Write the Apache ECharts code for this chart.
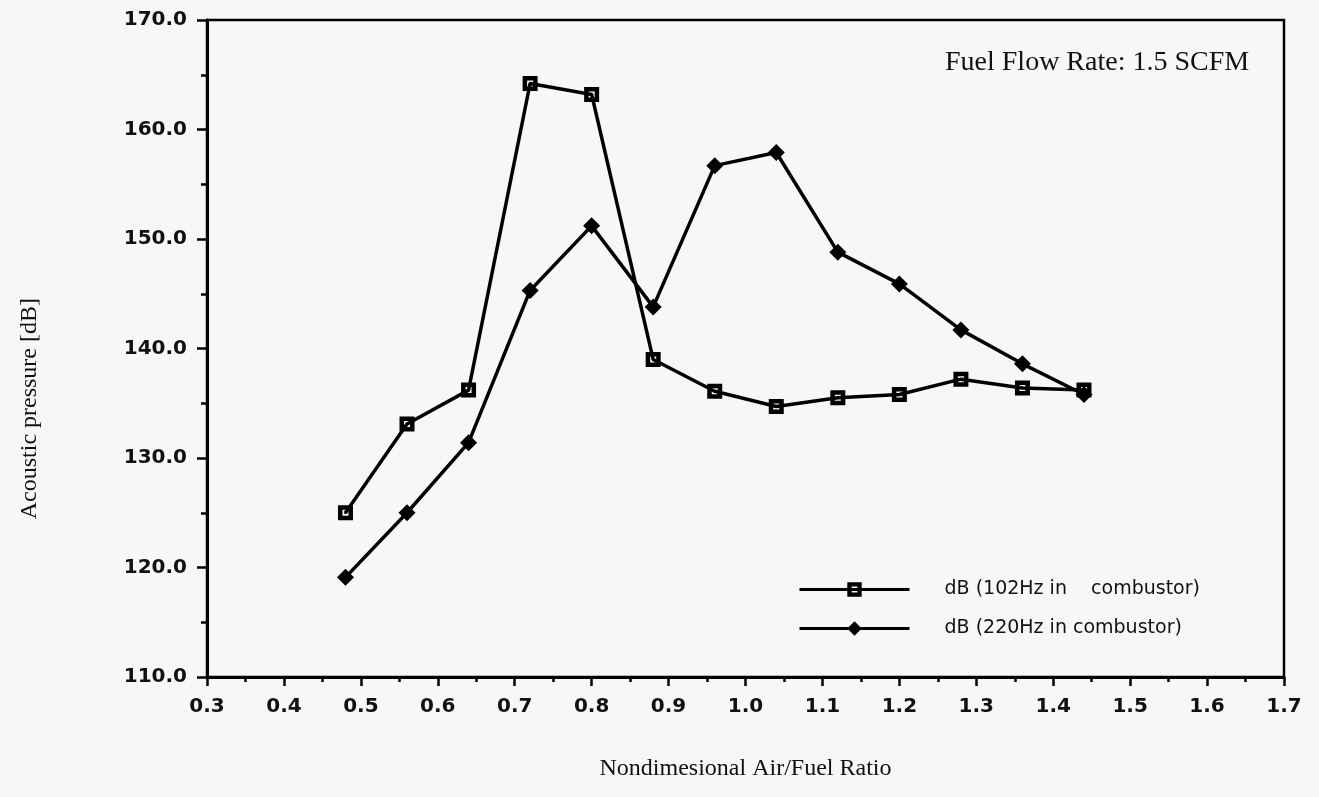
<!DOCTYPE html>
<html>
<head>
<meta charset="utf-8">
<title>Acoustic pressure</title>
<script src="https://cdn.jsdelivr.net/npm/echarts@6/dist/echarts.min.js"></script>
<style>
  html, body { margin: 0; padding: 0; background: #f7f7f7; }
  #chart { width: 1319px; height: 797px; }
</style>
</head>
<body>
<div id="chart"></div>
<script>
// values
var airFuel = [0.48, 0.56, 0.64, 0.72, 0.80, 0.88, 0.96, 1.04, 1.12, 1.20, 1.28, 1.36, 1.44];
var db102 = [125.0, 133.1, 136.2, 164.2, 163.2, 139.0, 136.1, 134.7, 135.5, 135.8, 137.2, 136.4, 136.2];
var db220 = [119.1, 125.0, 131.4, 145.3, 151.2, 143.8, 156.7, 157.9, 148.8, 145.9, 141.7, 138.6, 135.8];
var seriesNames = ['dB (102Hz in    combustor)', 'dB (220Hz in combustor)'];

function pairs(xs, ys) {
  var out = [];
  xs.forEach(function (x, i) { out.push([x, ys[i]]); });
  return out;
}

// open square with a dot in the middle
var squareSymbol = 'path://M0,0L10,0L10,10L0,10Z M3,3L3,7L7,7L7,3Z M4.2,4.2L5.8,4.2L5.8,5.8L4.2,5.8Z';

var tickFont = 'DejaVu Sans';
var chart = echarts.init(document.getElementById('chart'));
var option = {
  backgroundColor: '#f7f7f7',
  animation: false,
  title: {
    text: 'Fuel Flow Rate: 1.5 SCFM',
    left: 945,
    top: 49,
    padding: 0,
    textStyle: { fontFamily: 'Liberation Serif', fontWeight: 'normal', fontSize: 28, color: '#111' }
  },
  graphic: [{
    type: 'text',
    left: 18,
    top: 298,
    rotation: Math.PI / 2,
    style: { text: 'Acoustic pressure [dB]', font: '24px "Liberation Serif"', fill: '#111' }
  }],
  legend: {
    orient: 'vertical',
    left: 798,
    top: 580,
    padding: 0,
    itemWidth: 110,
    itemHeight: 18,
    itemGap: 20,
    lineStyle: { width: 3, color: '#000' },
    data: [seriesNames[0], seriesNames[1]],
    textStyle: { fontFamily: 'DejaVu Sans', fontSize: 19, lineHeight: 18, color: '#111', padding: [0, 0, 0, 30] }
  },
  grid: {
    left: 207, right: 35, top: 20, bottom: 120,
    show: true, borderColor: '#000', borderWidth: 2.5, backgroundColor: 'transparent'
  },
  xAxis: {
    type: 'value',
    min: 0.3, max: 1.7, interval: 0.1,
    name: 'Nondimesional Air/Fuel Ratio',
    nameLocation: 'middle',
    nameGap: 80,
    nameTextStyle: { fontFamily: 'Liberation Serif', fontSize: 24, color: '#111' },
    axisLine: { lineStyle: { color: '#000', width: 3 } },
    axisTick: { length: 9, lineStyle: { color: '#000', width: 2.5 } },
    minorTick: { show: true, splitNumber: 2, length: 5, lineStyle: { color: '#000', width: 2.5 } },
    splitLine: { show: false },
    axisLabel: {
      margin: 20,
      fontFamily: tickFont, fontWeight: 'bold', fontSize: 20, color: '#111',
      formatter: function (v) { return v.toFixed(1); }
    }
  },
  yAxis: {
    type: 'value',
    min: 110, max: 170, interval: 10,
    axisLine: { lineStyle: { color: '#000', width: 3 } },
    axisTick: { length: 10, lineStyle: { color: '#000', width: 2.5 } },
    minorTick: { show: true, splitNumber: 2, length: 6, lineStyle: { color: '#000', width: 2.5 } },
    splitLine: { show: false },
    axisLabel: {
      margin: 20,
      fontFamily: tickFont, fontWeight: 'bold', fontSize: 20, color: '#111',
      formatter: function (v) { return v.toFixed(1); }
    }
  },
  series: [
    {
      name: seriesNames[1],
      type: 'line',
      data: pairs(airFuel, db220),
      symbol: 'diamond',
      symbolSize: 17,
      itemStyle: { color: '#000' },
      lineStyle: { color: '#000', width: 3.5 }
    },
    {
      name: seriesNames[0],
      type: 'line',
      data: pairs(airFuel, db102),
      symbol: squareSymbol,
      symbolSize: 15,
      itemStyle: { color: '#000' },
      lineStyle: { color: '#000', width: 3.5 }
    }
  ]
};
option && chart.setOption(option);
</script>
</body>
</html>
